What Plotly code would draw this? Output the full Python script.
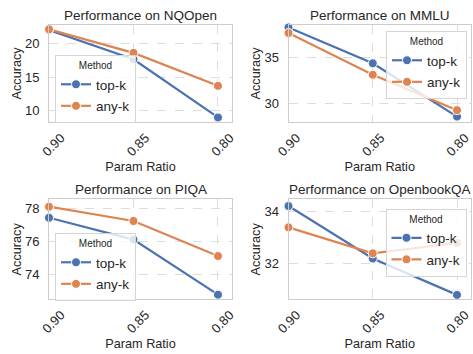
import plotly.graph_objects as go

param_ratio = [0.90, 0.85, 0.80]
tick_labels = ["0.90", "0.85", "0.80"]
datasets = ["NQOpen", "MMLU", "PIQA", "OpenbookQA"]
topk_nqopen = [22.0, 17.65, 9.0]
anyk_nqopen = [22.1, 18.6, 13.7]
topk_mmlu = [38.25, 34.35, 28.55]
anyk_mmlu = [37.65, 33.1, 29.25]
topk_piqa = [77.43, 76.1, 72.75]
anyk_piqa = [78.1, 77.23, 75.1]
topk_obqa = [34.22, 32.2, 30.8]
anyk_obqa = [33.4, 32.4, 32.8]
methods = ["top-k", "any-k"]

series = [(topk_nqopen, anyk_nqopen), (topk_mmlu, anyk_mmlu),
          (topk_piqa, anyk_piqa), (topk_obqa, anyk_obqa)]
y_ranges = [[8.28, 22.82], [27.93, 38.57], [72.47, 78.55], [30.63, 34.48]]
y_dticks = [5, 5, 2, 2]

W, H = 473, 354
FONT = "Liberation Sans, Arial, sans-serif"
TXT = "#262626"
colors = ["#4c72b0", "#dd8452"]

xdom = [[49 / W, 232 / W], [288.5 / W, 471 / W]]
ydom = [[1 - 122.3 / H, 1 - 24.5 / H], [1 - 299.3 / H, 1 - 199.3 / H]]
legend_pos = [(55, 55), (386, 31), (55, 233), (385.5, 208.5)]
label_shift = [-12, -8]

fig = go.Figure()
layout = dict(width=W, height=H, margin=dict(l=0, r=0, t=0, b=0),
              paper_bgcolor="white", plot_bgcolor="white",
              font=dict(family=FONT, color=TXT), showlegend=True,
              hovermode=False, annotations=[])

for i, name in enumerate(datasets):
    r, c = divmod(i, 2)
    sfx = "" if i == 0 else str(i + 1)
    leg = "legend" if i == 0 else f"legend{i + 1}"
    for j, m in enumerate(methods):
        fig.add_trace(go.Scatter(
            x=param_ratio, y=series[i][j], mode="lines+markers", name=m,
            xaxis="x" + sfx, yaxis="y" + sfx, legend=leg,
            legendgroup=f"{i}-{m}", cliponaxis=False,
            line=dict(color=colors[j], width=2.2),
            marker=dict(size=9, color=colors[j], line=dict(color="white", width=1)),
        ))
    axis_common = dict(showgrid=True, gridcolor="#dcdcdc", griddash="dash", gridwidth=1,
                       showline=True, linecolor="#cccccc", linewidth=1, mirror=True,
                       zeroline=False, ticks="", automargin=False,
                       tickfont=dict(size=13, color=TXT))
    layout["xaxis" + sfx] = dict(
        axis_common, domain=xdom[c], anchor="y" + sfx,
        range=[0.9, 0.7917], tickvals=param_ratio, ticktext=tick_labels,
        tickangle=-45, ticklabelshift=label_shift[c], ticklabelstandoff=2,
        ticklabeloverflow="allow",
        title=dict(text="Param Ratio", font=dict(size=12.7, color=TXT), standoff=4))
    layout["yaxis" + sfx] = dict(
        axis_common, domain=ydom[r], anchor="x" + sfx,
        range=y_ranges[i], dtick=y_dticks[i], ticklabelstandoff=6,
        title=dict(text="Accuracy", font=dict(size=12.7, color=TXT), standoff=0))
    lx, ly = legend_pos[i]
    layout[leg] = dict(x=lx / W, y=1 - ly / H, xanchor="left", yanchor="top",
                       bgcolor="rgba(255,255,255,0.8)", bordercolor="#d5d5d5", borderwidth=1,
                       font=dict(size=13.5, color=TXT), tracegroupgap=1,
                       title=dict(text="Method", side="top center", font=dict(size=10, color=TXT)))
    layout["annotations"].append(dict(
        text=f"Performance on {name}", xref="paper", yref="paper",
        x=(xdom[c][0] + xdom[c][1]) / 2, y=ydom[r][1] + 9.5 / H,
        xanchor="center", yanchor="middle", showarrow=False,
        font=dict(size=13.5, color=TXT)))

fig.update_layout(**layout)
fig.write_html("out.html", config={"displayModeBar": False},
               post_script="document.body.style.margin='0';document.body.style.padding='0';")
